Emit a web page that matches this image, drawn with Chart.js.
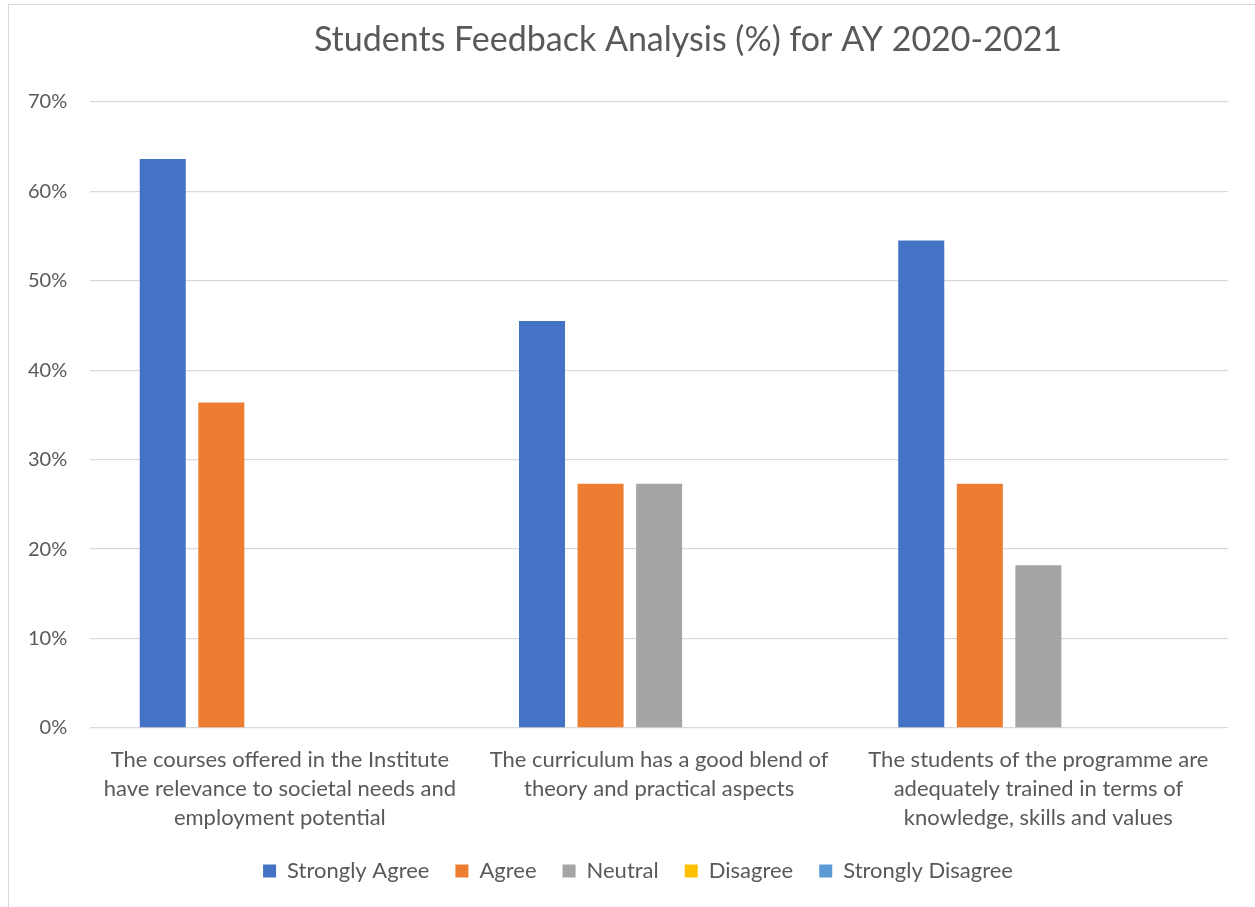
<!DOCTYPE html>
<html>
<head>
<meta charset="utf-8">
<script src="https://cdn.jsdelivr.net/npm/chart.js@4.4.1/dist/chart.umd.min.js"></script>
<style>
  html, body { margin: 0; padding: 0; background: #fff; overflow: hidden; }
  #wrap { position: absolute; left: 0; top: 0; width: 1255px; height: 907px; }
  #frame {
    position: absolute; left: 8px; top: 4px; width: 1300px; height: 1000px;
    border-left: 1.5px solid #d9d9d9; border-top: 1.5px solid #d9d9d9;
    pointer-events: none;
  }
</style>
</head>
<body>
<div id="wrap">
  <canvas id="feedback-chart" width="1255" height="907"></canvas>
  <div id="frame"></div>
</div>
<script>
// Survey questions (x-axis categories, pre-wrapped like the original)
const categories = [
  ["The courses offered in the Institute", "have relevance to societal needs and", "employment potential"],
  ["The curriculum has a good blend of", "theory and practical aspects"],
  ["The students of the programme are", "adequately trained in terms of", "knowledge, skills and values"],
];

// Response share per question, in percent
const stronglyAgree = [63.6, 45.5, 54.5];
const agree = [36.4, 27.3, 27.3];
const neutral = [0, 27.3, 18.2];
const disagree = [0, 0, 0];
const stronglyDisagree = [0, 0, 0];

const yTicks = [0, 10, 20, 30, 40, 50, 60, 70];

const TEXT = "#595959";
const GRID = "#d9d9d9";

Chart.defaults.font.family = "Lato";
Chart.defaults.color = TEXT;

// Excel centres the title on the whole chart frame and the legend a bit
// differently, so nudge both blocks after Chart.js has laid them out.
const centerBlocks = {
  id: "centerBlocks",
  afterLayout(chart) {
    const t = chart.titleBlock;
    const dt = 688 - (t.left + t.right) / 2;
    t.left += dt;
    t.right += dt;
    const l = chart.legend;
    const dl = 638 - (l.left + l.right) / 2;
    l.left += dl;
    l.right += dl;
  },
};

const series = [
  { label: "Strongly Agree", data: stronglyAgree, color: "#4472c4" },
  { label: "Agree", data: agree, color: "#ed7d31" },
  { label: "Neutral", data: neutral, color: "#a5a5a5" },
  { label: "Disagree", data: disagree, color: "#ffc000" },
  { label: "Strongly Disagree", data: stronglyDisagree, color: "#5b9bd5" },
];

new Chart(document.getElementById("feedback-chart"), {
  type: "bar",
  data: {
    labels: categories,
    datasets: series.map((s) => ({
      label: s.label,
      data: s.data,
      backgroundColor: s.color,
      borderWidth: 0,
      categoryPercentage: 0.772,
      barPercentage: 0.786,
    })),
  },
  plugins: [centerBlocks],
  options: {
    responsive: false,
    animation: false,
    layout: { padding: { top: 0, left: 5, right: 27, bottom: 15 } },
    plugins: {
      title: {
        display: true,
        text: "Students Feedback Analysis (%) for AY 2020-2021",
        color: TEXT,
        font: { size: 34, weight: "normal" },
        padding: { top: 20, bottom: 41 },
      },
      legend: {
        position: "bottom",
        labels: {
          boxWidth: 13,
          boxHeight: 13,
          padding: 26,
          color: TEXT,
          font: { size: 22 },
        },
      },
      tooltip: { enabled: false },
    },
    scales: {
      x: {
        grid: { display: false },
        border: { display: false },
        // keep the label block tight so the legend sits where Excel put it
        afterFit: (scale) => {
          scale.height = 106;
        },
        ticks: {
          color: TEXT,
          padding: 9,
          maxRotation: 0,
          autoSkip: false,
          font: { size: 22, lineHeight: 1.32 },
        },
      },
      y: {
        min: 0,
        max: 70,
        afterBuildTicks: (axis) => {
          axis.ticks = yTicks.map((v) => ({ value: v }));
        },
        grid: { color: GRID, lineWidth: 1.3, drawTicks: false },
        border: { display: false },
        ticks: {
          color: TEXT,
          padding: 23,
          font: { size: 20 },
          callback: (value) => `${value}%`,
        },
      },
    },
  },
});
</script>
</body>
</html>
